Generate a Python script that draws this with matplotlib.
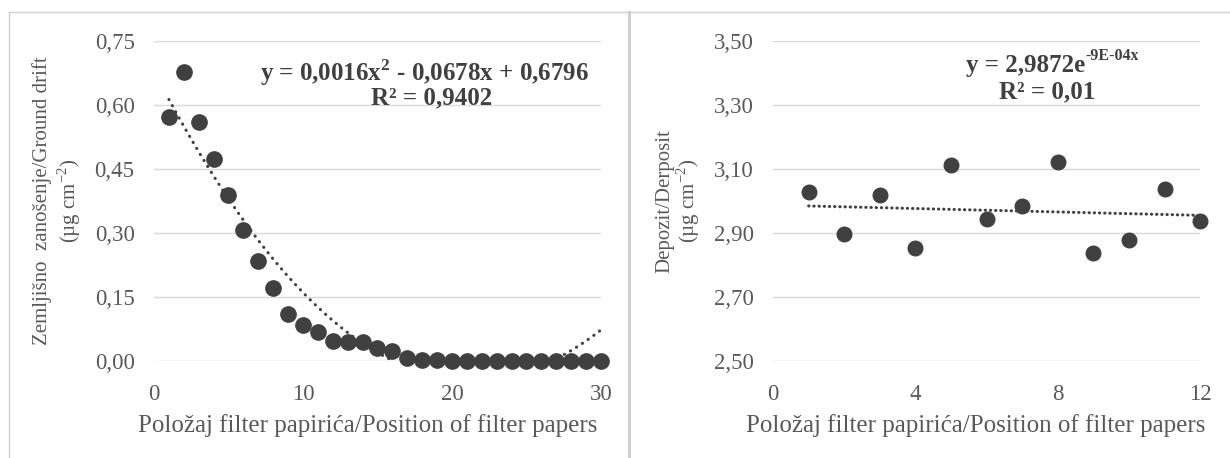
import numpy as np
import matplotlib
matplotlib.use("Agg")
from matplotlib import pyplot as plt
from matplotlib.lines import Line2D

plt.rcParams['font.family'] = ['Liberation Serif', 'DejaVu Serif']
plt.rcParams['mathtext.fontset'] = 'custom'
plt.rcParams['mathtext.rm'] = 'Liberation Serif'
plt.rcParams['mathtext.bf'] = 'Liberation Serif:bold'

# ground drift, positions 1..30
drift_x = list(range(1, 31))
drift_y = [0.573, 0.678, 0.559, 0.473, 0.388, 0.308, 0.234, 0.172, 0.109, 0.084,
           0.069, 0.048, 0.045, 0.045, 0.030, 0.023, 0.006, 0.003, 0.003, 0.001,
           0.001, 0.001, 0.001, 0.001, 0.001, 0.001, 0.001, 0.001, 0.001, 0.001]

# deposit, positions 1..12
dep_x = list(range(1, 13))
dep_y = [3.029, 2.898, 3.019, 2.853, 3.112, 2.945, 2.983, 3.121, 2.838, 2.877, 3.039, 2.936]

drift_ticks = [0, 0.15, 0.30, 0.45, 0.60, 0.75]
dep_ticks = [2.50, 2.70, 2.90, 3.10, 3.30, 3.50]

exp_a, exp_b = 2.9872, -9e-4

xlabel = "Položaj filter papirića/Position of filter papers"
dot = '#404040'
grey = '#595959'

fig = plt.figure(figsize=(12.3, 4.58), dpi=100)

def setup(ax, xlim, xt, ylim, yt):
    ax.set_xlim(*xlim)
    ax.set_ylim(*ylim)
    ax.set_xticks(xt)
    ax.set_yticks(yt)
    ax.set_yticklabels([("%.2f" % v).replace('.', ',') for v in yt])
    for s in ax.spines.values():
        s.set_visible(False)
    ax.grid(axis='y', color='#d9d9d9', lw=1)
    ax.set_axisbelow(True)
    ax.tick_params(length=0, pad=14, labelsize=16.5, colors=grey)
    ax.tick_params(axis='x', pad=16.5)

ax1 = fig.add_axes([0.1252, 0.2118, 0.3634, 0.6987])
setup(ax1, (0, 30), [0, 10, 20, 30], (0, 0.75), drift_ticks)
# 2nd order trendline fitted to the data, hidden below the axis
coef = np.polyfit(drift_x, drift_y, 2)
xx = np.linspace(1, 30, 300)
yy = np.polyval(coef, xx)
yy[yy < 0] = np.nan
ax1.plot(xx, yy, color=dot, lw=2.2, ls=(0, (0.1, 2.2)), dash_capstyle='round')
ax1.plot(drift_x, drift_y, 'o', ms=11, color=dot, clip_on=False, zorder=3)

ax2 = fig.add_axes([0.6285, 0.2118, 0.3472, 0.6987])
setup(ax2, (0, 12), [0, 4, 8, 12], (2.5, 3.5), dep_ticks)
xx2 = np.linspace(1, 12, 100)
ax2.plot(xx2, exp_a * np.exp(exp_b * xx2), color=dot, lw=2.2, ls=(0, (0.1, 1.6)), dash_capstyle='round')
ax2.plot(dep_x, dep_y, 'o', ms=10.5, color=dot, clip_on=False, zorder=3)

fig.text(0.299, 0.070, xlabel, ha='center', va='center', fontsize=18, color=grey)
fig.text(0.793, 0.070, xlabel, ha='center', va='center', fontsize=18, color=grey)
fig.text(0.0468, 0.561, "Zemljišno  zanošenje/Ground drift\n(µg cm$^{-2}$)", rotation=90,
         ha='center', va='center', multialignment='center', fontsize=15, color=grey, linespacing=1.2)
fig.text(0.5515, 0.561, "Depozit/Derposit\n(µg cm$^{-2}$)", rotation=90,
         ha='center', va='center', multialignment='center', fontsize=15, color=grey, linespacing=1.0)

# trendline labels
fig.text(0.3455, 0.8406, r"y = 0,0016x$^{\mathbf{2}}$ - 0,0678x + 0,6796", ha='center', va='center',
         fontsize=18, fontweight='bold', color=dot)
fig.text(0.351, 0.786, "R² = 0,9402", ha='center', va='center', fontsize=18, fontweight='bold', color=dot)
fig.text(0.882, 0.856, "y = 2,9872e", ha='right', va='center', fontsize=18, fontweight='bold', color=dot)
fig.text(0.8825, 0.878, "-9E-04x", ha='left', va='center', fontsize=11.5, fontweight='bold', color=dot)
fig.text(0.851, 0.800, "R² = 0,01", ha='center', va='center', fontsize=18, fontweight='bold', color=dot)

# panel frames
border = '#d0d0d0'
fig.add_artist(Line2D([9 / 1230, 1], [1 - 12 / 458] * 2, transform=fig.transFigure, color=border, lw=1))
fig.add_artist(Line2D([9 / 1230] * 2, [0, 1 - 12 / 458], transform=fig.transFigure, color=border, lw=1))
fig.add_artist(Line2D([628.5 / 1230] * 2, [0, 1 - 12 / 458], transform=fig.transFigure, color=border, lw=2.2))

fig.savefig("out.png", dpi=100)
